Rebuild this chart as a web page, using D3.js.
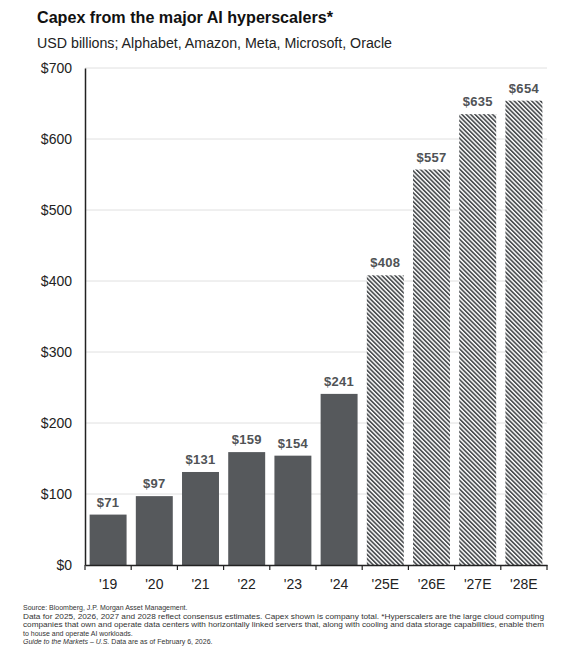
<!DOCTYPE html>
<html>
<head>
<meta charset="utf-8">
<script src="https://cdn.jsdelivr.net/npm/d3@7"></script>
<style>
  body { margin: 0; background: #fff; }
  text { font-family: "Liberation Sans", Arial, sans-serif; }
</style>
</head>
<body>
<div id="chart"></div>
<script>
// data
var years = ["'19", "'20", "'21", "'22", "'23", "'24", "'25E", "'26E", "'27E", "'28E"];
var capex = [71, 97, 131, 159, 154, 241, 408, 557, 635, 654];
var estimate = [false, false, false, false, false, false, true, true, true, true];
var yTicks = [0, 100, 200, 300, 400, 500, 600, 700];
var notes = [
  "Source: Bloomberg, J.P. Morgan Asset Management.",
  "Data for 2025, 2026, 2027 and 2028 reflect consensus estimates. Capex shown is company total. *Hyperscalers are the large cloud computing",
  "companies that own and operate data centers with horizontally linked servers that, along with cooling and data storage capabilities, enable them",
  "to house and operate AI workloads."
];

var w = 581, h = 659;
var plotL = 85, plotR = 547, plotT = 68, plotB = 565;

var svg = d3.select("#chart").append("svg").attr("width", w).attr("height", h);

// hatch for estimates
var defs = svg.append("defs");
var pat = defs.append("pattern").attr("id", "hatch").attr("patternUnits", "userSpaceOnUse")
  .attr("width", 3.1).attr("height", 3.1).attr("patternTransform", "rotate(-45)");
pat.append("rect").attr("width", 3.1).attr("height", 3.1).attr("fill", "#fff");
pat.append("rect").attr("width", 1.7).attr("height", 3.1).attr("fill", "#4e5154");

var x = d3.scaleBand().domain(years).range([plotL, plotR]).paddingInner(0.2).paddingOuter(0.1);
var y = d3.scaleLinear().domain([0, 700]).range([plotB, plotT]);

// title
svg.append("text").text("Capex from the major AI hyperscalers*")
  .attr("x", 37).attr("y", 23).attr("textLength", 296).attr("lengthAdjust", "spacingAndGlyphs")
  .style("font-size", "16.5px").style("font-weight", "bold").style("fill", "#111");
svg.append("text").text("USD billions; Alphabet, Amazon, Meta, Microsoft, Oracle")
  .attr("x", 37).attr("y", 48).attr("textLength", 355).attr("lengthAdjust", "spacingAndGlyphs")
  .style("font-size", "14px").style("fill", "#222");

// gridlines
svg.append("g").selectAll("line").data(yTicks.slice(1)).enter().append("line")
  .attr("x1", plotL).attr("x2", plotR).attr("y1", function(d){ return y(d); }).attr("y2", function(d){ return y(d); })
  .style("stroke", "#e0e0e0").style("stroke-width", 1);

// bars
svg.append("g").selectAll("rect").data(capex).enter().append("rect")
  .attr("x", function(d, i){ return x(years[i]); })
  .attr("width", x.bandwidth())
  .attr("y", function(d){ return y(d); })
  .attr("height", function(d){ return y(0) - y(d); })
  .style("fill", function(d, i){ return estimate[i] ? "url(#hatch)" : "#56595c"; });

// value labels
svg.append("g").selectAll("text").data(capex).enter().append("text")
  .text(function(d){ return "$" + d; })
  .attr("x", function(d, i){ return x(years[i]) + x.bandwidth() / 2; })
  .attr("y", function(d){ return y(d) - 8; })
  .attr("text-anchor", "middle")
  .style("font-size", "13px").style("font-weight", "bold").style("fill", "#505356")
  .style("letter-spacing", "0.3px");

// y axis
var yAxis = svg.append("g").attr("transform", "translate(" + plotL + ",0)")
  .call(d3.axisLeft(y).tickValues(yTicks).tickFormat(function(d){ return "$" + d; }).tickSize(0).tickPadding(13));
yAxis.select(".domain").style("stroke", "#222").style("stroke-width", 1.5);
yAxis.selectAll("text").style("font-size", "14px").style("fill", "#222")
  .style("font-family", "'Liberation Sans', Arial, sans-serif");

// x axis
var xAxis = svg.append("g").attr("transform", "translate(0," + plotB + ")")
  .call(d3.axisBottom(x).tickSize(0).tickPadding(14));
xAxis.select(".domain").style("stroke", "#222").style("stroke-width", 1.5);
xAxis.selectAll("text").style("font-size", "14px").style("fill", "#222")
  .style("font-family", "'Liberation Sans', Arial, sans-serif");
var step = x.step();
xAxis.selectAll("line.sep").data(d3.range(years.length + 1)).enter().append("line").attr("class", "sep")
  .attr("x1", function(i){ return plotL + i * step; }).attr("x2", function(i){ return plotL + i * step; })
  .attr("y1", 0).attr("y2", 5).style("stroke", "#222").style("stroke-width", 1.2);

// footnotes
var fn = svg.append("g").style("font-size", "7px").style("fill", "#333");
fn.selectAll("text.n").data(notes).enter().append("text").attr("class", "n")
  .text(function(d){ return d; })
  .attr("x", 23).attr("y", function(d, i){ return 610 + i * 8.5; })
  .each(function(d, i){
    if (i === 1 || i === 2) d3.select(this).attr("textLength", 521).attr("lengthAdjust", "spacingAndGlyphs");
  });
var last = fn.append("text").attr("x", 23).attr("y", 610 + 4 * 8.5);
last.append("tspan").style("font-style", "italic").text("Guide to the Markets – U.S.");
last.append("tspan").text(" Data are as of February 6, 2026.");
</script>
</body>
</html>
